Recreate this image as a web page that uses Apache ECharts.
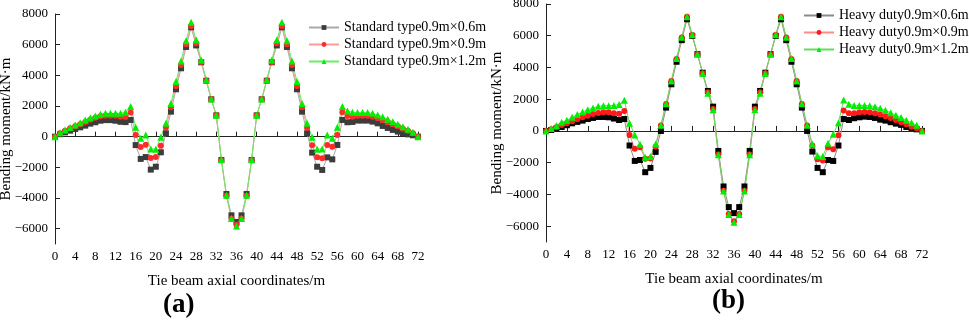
<!DOCTYPE html>
<html>
<head>
<meta charset="utf-8">
<script src="https://cdn.jsdelivr.net/npm/echarts@6/dist/echarts.min.js"></script>
<style>
  html, body { margin: 0; padding: 0; background: #fff; }
  #bending_charts { width: 969px; height: 320px; }
</style>
</head>
<body>
<div id="bending_charts"></div>
<script>
  // axial coordinates (m)
  let xCoords = [0, 1, 2, 3, 4, 5, 6, 7, 8, 9, 10, 11, 12, 13, 14, 15, 16, 17, 18, 19, 20, 21, 22, 23, 24,
    25, 26, 27, 28, 29, 30, 31, 32, 33, 34, 35, 36, 37, 38, 39, 40, 41, 42, 43, 44, 45, 46, 47, 48, 49,
    50, 51, 52, 53, 54, 55, 56, 57, 58, 59, 60, 61, 62, 63, 64, 65, 66, 67, 68, 69, 70, 71, 72]
  let xTicks = [0, 4, 8, 12, 16, 20, 24, 28, 32, 36, 40, 44, 48, 52, 56, 60, 64, 68, 72]
  let yTicks = [-6000, -4000, -2000, 0, 2000, 4000, 6000, 8000]

  // (a) standard type
  let namesA = ['Standard type0.9m×0.6m', 'Standard type0.9m×0.9m', 'Standard type0.9m×1.2m']
  let std06 = [0, 160, 280, 390, 500, 610, 720, 850, 940, 1040, 1080, 1080, 1040, 970, 950, 1090, -550, -1450, -1330, -2150, -1960, -1020, 220, 1630, 3090,
    4460, 5850, 7130, 5950, 4850, 3650, 2440, 1390, -1520, -3740, -5130, -5560, -5130, -3740, -1520, 1390, 2440, 3650, 4850, 5950, 7130, 5850, 4460, 3090, 1630,
    220, -1040, -1960, -2170, -1350, -1480, -540, 1090, 940, 960, 1050, 1050, 1050, 980, 870, 700, 570, 440, 330, 220, 150, 90, 0]
  let std09 = [0, 220, 390, 545, 675, 805, 960, 1110, 1240, 1330, 1370, 1370, 1370, 1300, 1300, 1570, 110, -670, -520, -1390, -1330, -590, 590, 1920, 3310,
    4680, 6030, 7220, 6100, 4870, 3650, 2440, 1390, -1540, -3850, -5350, -5750, -5350, -3850, -1540, 1390, 2440, 3650, 4870, 6100, 7220, 6030, 4680, 3310, 1920,
    570, -560, -1350, -1410, -540, -650, 110, 1590, 1350, 1300, 1370, 1370, 1370, 1300, 1200, 1070, 940, 810, 680, 520, 390, 220, 0]
  let std12 = [0, 260, 440, 590, 760, 910, 1090, 1240, 1350, 1460, 1520, 1520, 1520, 1520, 1590, 1960, 610, -110, 110, -800, -820, -40, 870, 2170, 3590,
    4940, 6260, 7460, 6300, 5000, 3700, 2460, 1390, -1500, -3820, -5330, -5830, -5330, -3820, -1500, 1390, 2460, 3700, 5000, 6300, 7460, 6260, 4940, 3590, 2170,
    870, -40, -820, -800, 110, -110, 610, 1960, 1670, 1590, 1570, 1570, 1570, 1520, 1420, 1300, 1130, 980, 810, 650, 480, 290, 0]

  // (b) heavy duty
  let namesB = ['Heavy duty0.9m×0.6m', 'Heavy duty0.9m×0.9m', 'Heavy duty0.9m×1.2m']
  let heavy06 = [0, 60, 150, 250, 360, 480, 570, 650, 750, 820, 880, 880, 860, 780, 690, 750, -920, -1890, -1830, -2600, -2330, -1320, 0, 1470, 2940,
    4360, 5720, 7040, 5990, 4840, 3670, 2520, 1530, -1260, -3500, -4800, -5180, -4800, -3500, -1260, 1530, 2520, 3670, 4840, 5990, 7040, 5720, 4360, 2940, 1470,
    0, -1300, -2330, -2600, -1830, -1890, -920, 750, 690, 800, 860, 900, 880, 820, 710, 650, 550, 460, 380, 250, 190, 100, 0]
  let heavy09 = [0, 100, 230, 380, 480, 610, 730, 860, 960, 1070, 1130, 1170, 1170, 1110, 1090, 1260, -250, -1130, -1030, -1760, -1740, -990, 340, 1700, 3140,
    4530, 5890, 7190, 6050, 4840, 3640, 2440, 1380, -1480, -3770, -5240, -5700, -5240, -3770, -1480, 1380, 2440, 3640, 4840, 6050, 7190, 5890, 4530, 3140, 1700,
    340, -920, -1780, -1870, -1030, -1150, -270, 1280, 1110, 1110, 1170, 1190, 1170, 1110, 1030, 920, 820, 690, 550, 420, 270, 150, 0]
  let heavy12 = [0, 150, 340, 540, 670, 860, 1030, 1190, 1340, 1450, 1550, 1590, 1590, 1610, 1660, 1930, 480, -250, -840, -1660, -1610, -820, 360, 1720, 3150,
    4560, 5910, 7200, 6060, 4840, 3620, 2380, 1330, -1500, -3790, -5270, -5750, -5270, -3790, -1500, 1330, 2380, 3620, 4840, 6060, 7200, 5910, 4560, 3150, 1720,
    360, -820, -1570, -1610, -780, -210, 520, 1950, 1680, 1610, 1610, 1610, 1590, 1530, 1430, 1300, 1150, 990, 840, 670, 520, 360, 0]

  let serif = '"Times New Roman", "Liberation Serif", serif'

  function pairs (ys) {
    return xCoords.map((x, i) => [x, ys[i]])
  }

  function makeSeries (name, ys, idx, symbol, size, markColor, lineColor) {
    return {
      name: name,
      type: 'line',
      xAxisIndex: idx,
      yAxisIndex: idx,
      data: pairs(ys),
      symbol: symbol,
      symbolSize: size,
      showAllSymbol: true,
      animation: false,
      itemStyle: { color: markColor, borderWidth: 0 },
      lineStyle: { color: lineColor, width: 1 }
    }
  }

  function makeXAxis (idx) {
    return {
      type: 'value',
      gridIndex: idx,
      min: 0,
      max: 72,
      interval: 4,
      name: 'Tie beam axial coordinates/m',
      nameLocation: 'middle',
      nameGap: 30,
      nameMoveOverlap: false,
      nameTextStyle: { fontFamily: serif, fontSize: 15, color: '#000' },
      axisLine: { lineStyle: { color: '#222', width: 1 } },
      axisTick: { inside: true, length: 5, lineStyle: { color: '#222' } },
      splitLine: { show: false },
      axisLabel: { customValues: xTicks, fontFamily: serif, fontSize: 13, color: '#000', margin: 6 }
    }
  }

  function makeYAxis (idx) {
    return {
      type: 'value',
      gridIndex: idx,
      min: -7000,
      max: 8000,
      name: 'Bending moment/kN·m',
      nameLocation: 'middle',
      nameGap: 41,
      nameMoveOverlap: false,
      nameTextStyle: { fontFamily: serif, fontSize: 15, color: '#000' },
      axisLine: { show: true, lineStyle: { color: '#222', width: 1 } },
      axisTick: { show: true, inside: true, length: 5, customValues: yTicks, lineStyle: { color: '#222' } },
      splitLine: { show: false },
      axisLabel: {
        customValues: yTicks,
        formatter: (v) => String(v).replace('-', '\u2212'),
        fontFamily: serif,
        fontSize: 13,
        color: '#000',
        margin: 7
      }
    }
  }

  function makeLegend (names, left, top) {
    return {
      data: names,
      orient: 'vertical',
      left: left,
      top: top,
      padding: 0,
      itemWidth: 30,
      itemHeight: 6,
      itemGap: 2,
      textStyle: { fontFamily: serif, fontSize: 14, color: '#000', lineHeight: 15 }
    }
  }

  let myChart = echarts.init(document.getElementById('bending_charts'))
  let option = {
    backgroundColor: '#fff',
    animation: false,
    title: [
      { text: '(a)', left: 163, top: 292, padding: 0, textStyle: { fontFamily: serif, fontSize: 27, fontWeight: 'bold', color: '#000' } },
      { text: '(b)', left: 712, top: 288, padding: 0, textStyle: { fontFamily: serif, fontSize: 27, fontWeight: 'bold', color: '#000' } }
    ],
    legend: [
      makeLegend(namesA, 308, 20),
      makeLegend(namesB, 803, 8)
    ],
    grid: [
      { left: 55, top: 14, width: 363, height: 230, outerBoundsMode: 'none' },
      { left: 546, top: 4, width: 376, height: 238, outerBoundsMode: 'none' }
    ],
    xAxis: [makeXAxis(0), makeXAxis(1)],
    yAxis: [makeYAxis(0), makeYAxis(1)],
    series: [
      makeSeries(namesA[0], std06, 0, 'rect', 6, '#3c3c3c', '#a8a8a8'),
      makeSeries(namesA[1], std09, 0, 'circle', 6, '#ff2a2a', '#ff9a9a'),
      makeSeries(namesA[2], std12, 0, 'triangle', 7, '#00ee00', '#66ee66'),
      makeSeries(namesB[0], heavy06, 1, 'rect', 6, '#000000', '#8a8a8a'),
      makeSeries(namesB[1], heavy09, 1, 'circle', 6, '#ff1a1a', '#ff8a8a'),
      makeSeries(namesB[2], heavy12, 1, 'triangle', 7, '#00ee00', '#5fdd5f')
    ]
  }
  myChart.setOption(option)
</script>
</body>
</html>
